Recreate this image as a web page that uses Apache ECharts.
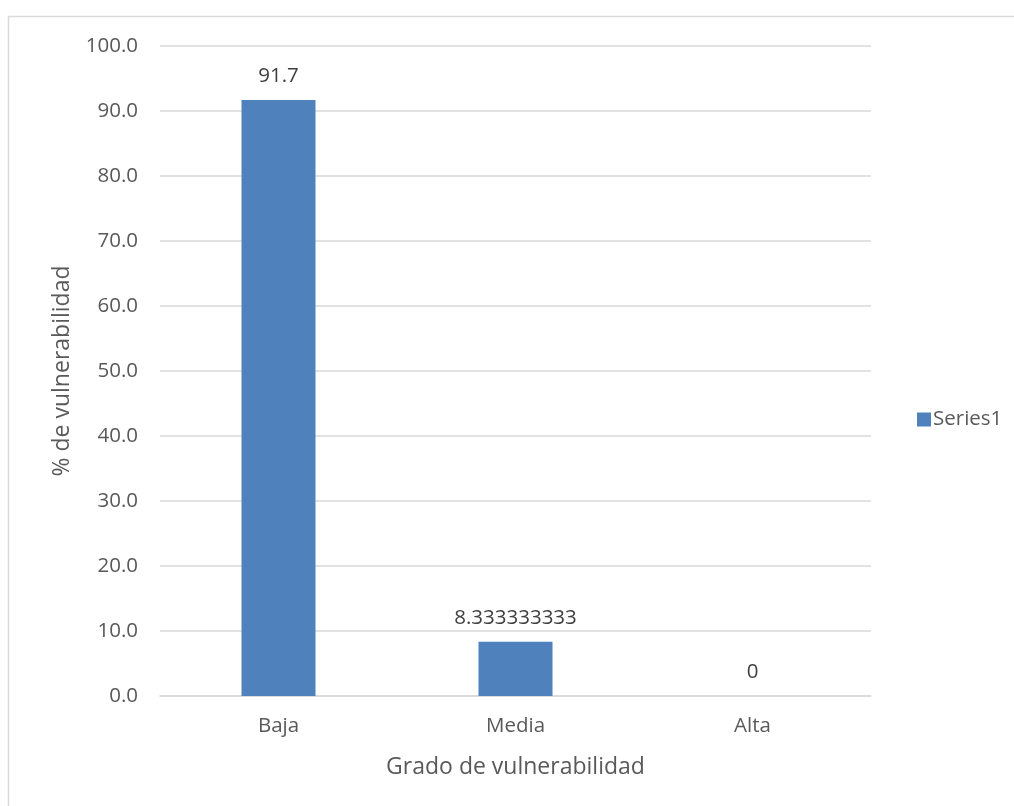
<!DOCTYPE html>
<html>
<head>
<meta charset="utf-8">
<script src="https://cdn.jsdelivr.net/npm/echarts@6/dist/echarts.min.js"></script>
<style>
  html, body { margin: 0; padding: 0; background: #ffffff; }
  #chart { width: 1014px; height: 806px; }
</style>
</head>
<body>
<div id="chart"></div>
<script>
// Vulnerability level categories and their percentages
const categories = ['Baja', 'Media', 'Alta'];
const seriesName = 'Series1';
const values = [91.7, 8.333333333, 0];
const yTitle = '% de vulnerabilidad';
const xTitle = 'Grado de vulnerabilidad';

const textColor = '#595959';
const gridColor = '#d9d9d9';
const barColor = '#4f81bd';
const fontFamily = '"Open Sans", "Noto Sans", sans-serif';

const chart = echarts.init(document.getElementById('chart'), null, { renderer: 'canvas' });

chart.setOption({
  backgroundColor: '#ffffff',
  animation: false,
  textStyle: { fontFamily: fontFamily },
  graphic: [
    {
      type: 'rect',
      shape: { x: 8.5, y: 16.5, width: 1030, height: 820 },
      style: { fill: 'none', stroke: gridColor, lineWidth: 1.5 },
      silent: true
    }
  ],
  legend: {
    data: [seriesName],
    left: 912,
    top: 404,
    orient: 'vertical',
    icon: 'rect',
    itemWidth: 14,
    itemHeight: 14,
    itemGap: 4,
    textStyle: { color: textColor, fontSize: 20.5, fontFamily: fontFamily, padding: [0, 0, 0, -3] }
  },
  grid: {
    left: 160,
    right: 143,
    top: 46,
    bottom: 110,
    containLabel: false
  },
  xAxis: {
    type: 'category',
    data: categories,
    name: xTitle,
    nameLocation: 'middle',
    nameGap: 60,
    nameTextStyle: { color: textColor, fontSize: 23, fontFamily: fontFamily },
    axisLine: { show: true, lineStyle: { color: gridColor, width: 1.5 } },
    axisTick: { show: false },
    axisLabel: { color: textColor, fontSize: 20.5, margin: 20, fontFamily: fontFamily }
  },
  yAxis: {
    type: 'value',
    min: 0,
    max: 100,
    interval: 10,
    name: yTitle,
    nameLocation: 'middle',
    nameGap: 86,
    nameTextStyle: { color: textColor, fontSize: 23, fontFamily: fontFamily },
    axisLine: { show: false },
    axisTick: { show: false },
    splitLine: { lineStyle: { color: gridColor, width: 1.5 } },
    axisLabel: {
      color: textColor,
      fontSize: 20.5,
      margin: 22,
      fontFamily: fontFamily,
      formatter: v => v.toFixed(1)
    }
  },
  series: [
    {
      name: seriesName,
      type: 'bar',
      data: values,
      barWidth: 74,
      itemStyle: { color: barColor },
      label: {
        show: true,
        position: 'top',
        distance: 13,
        color: '#404040',
        fontSize: 20.5,
        fontFamily: fontFamily,
        formatter: p => String(p.value)
      }
    }
  ]
});
</script>
</body>
</html>
